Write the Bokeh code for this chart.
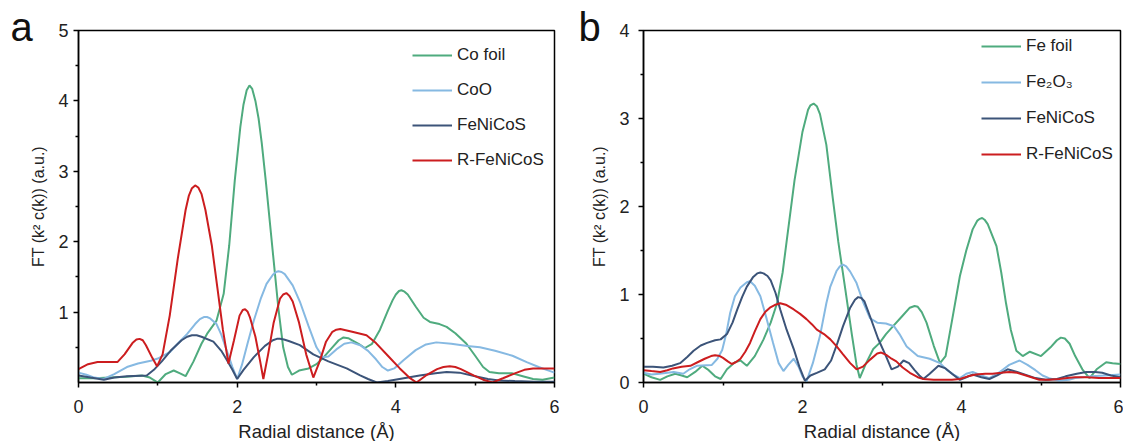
from bokeh.plotting import figure
from bokeh.layouts import row
from bokeh.models import Legend, LegendItem, FixedTicker, Title, Range1d
from bokeh.embed import file_html
from bokeh.resources import INLINE

# ---------------- Panel a data (Co K-edge) ----------------
a_cofoil_x = [0.0, 0.2, 0.4, 0.6, 0.8, 0.9, 1.0, 1.1, 1.2, 1.28, 1.35, 1.45, 1.55, 1.62, 1.74, 1.83, 1.9, 1.97, 2.04, 2.08, 2.12, 2.155, 2.19, 2.23, 2.27, 2.31, 2.36, 2.46, 2.52, 2.58, 2.64, 2.69, 2.78, 2.9, 3.0, 3.1, 3.2, 3.28, 3.34, 3.4, 3.45, 3.53, 3.61, 3.7, 3.8, 3.9, 3.96, 4.0, 4.04, 4.07, 4.11, 4.15, 4.25, 4.35, 4.43, 4.55, 4.64, 4.75, 4.89, 5.0, 5.1, 5.18, 5.3, 5.47, 5.6, 5.73, 5.85, 6.0]
a_cofoil_y = [0.06, 0.06, 0.07, 0.08, 0.1, 0.07, 0.0, 0.12, 0.17, 0.13, 0.09, 0.3, 0.55, 0.69, 0.88, 1.26, 1.95, 2.87, 3.63, 3.95, 4.15, 4.22, 4.17, 4.0, 3.75, 3.4, 2.87, 1.73, 1.05, 0.5, 0.22, 0.11, 0.17, 0.2, 0.26, 0.37, 0.5, 0.6, 0.64, 0.63, 0.6, 0.55, 0.49, 0.55, 0.75, 1.02, 1.17, 1.25, 1.3, 1.31, 1.29, 1.25, 1.08, 0.92, 0.86, 0.83, 0.79, 0.7, 0.55, 0.38, 0.22, 0.15, 0.13, 0.13, 0.09, 0.05, 0.04, 0.07]

a_coo_x = [0.0, 0.1, 0.2, 0.32, 0.45, 0.61, 0.75, 0.91, 1.0, 1.15, 1.25, 1.37, 1.47, 1.53, 1.58, 1.62, 1.66, 1.74, 1.8, 1.87, 1.94, 2.0, 2.06, 2.13, 2.21, 2.3, 2.37, 2.45, 2.49, 2.52, 2.56, 2.6, 2.7, 2.79, 2.9, 3.0, 3.08, 3.15, 3.25, 3.35, 3.44, 3.55, 3.65, 3.75, 3.83, 3.9, 3.98, 4.1, 4.25, 4.38, 4.51, 4.7, 4.9, 5.06, 5.25, 5.47, 5.65, 5.8, 5.9, 6.0]
a_coo_y = [0.14, 0.11, 0.07, 0.05, 0.12, 0.22, 0.27, 0.31, 0.34, 0.43, 0.55, 0.69, 0.83, 0.9, 0.93, 0.93, 0.91, 0.83, 0.68, 0.45, 0.22, 0.05, 0.25, 0.55, 0.88, 1.2, 1.4, 1.53, 1.57, 1.58, 1.57, 1.54, 1.38, 1.15, 0.8, 0.5, 0.36, 0.37, 0.47, 0.55, 0.57, 0.53, 0.45, 0.33, 0.22, 0.17, 0.2, 0.32, 0.46, 0.54, 0.57, 0.55, 0.52, 0.5, 0.45, 0.38, 0.29, 0.22, 0.18, 0.14]

a_fenicos_x = [0.0, 0.15, 0.32, 0.45, 0.61, 0.86, 0.95, 1.05, 1.16, 1.3, 1.37, 1.43, 1.49, 1.55, 1.7, 1.8, 1.87, 1.94, 2.0, 2.08, 2.21, 2.35, 2.45, 2.5, 2.54, 2.59, 2.65, 2.79, 2.96, 3.15, 3.38, 3.55, 3.65, 3.76, 3.9, 4.1, 4.3, 4.5, 4.64, 4.8, 5.0, 5.16, 5.3, 5.5, 5.75, 6.0]
a_fenicos_y = [0.1, 0.07, 0.04, 0.07, 0.09, 0.1, 0.18, 0.3, 0.45, 0.6, 0.65, 0.67, 0.67, 0.65, 0.58, 0.45, 0.32, 0.18, 0.05, 0.18, 0.36, 0.52, 0.6, 0.62, 0.62, 0.61, 0.59, 0.53, 0.4, 0.3, 0.2, 0.1, 0.05, 0.0, 0.02, 0.06, 0.1, 0.13, 0.15, 0.14, 0.09, 0.05, 0.03, 0.02, 0.01, 0.01]

a_rfenicos_x = [0.0, 0.12, 0.24, 0.4, 0.49, 0.58, 0.68, 0.73, 0.77, 0.81, 0.85, 0.93, 0.99, 1.06, 1.15, 1.25, 1.35, 1.39, 1.43, 1.47, 1.51, 1.55, 1.6, 1.68, 1.75, 1.82, 1.89, 1.96, 2.03, 2.07, 2.1, 2.13, 2.16, 2.23, 2.29, 2.33, 2.39, 2.46, 2.54, 2.58, 2.62, 2.66, 2.7, 2.78, 2.87, 2.96, 3.04, 3.12, 3.2, 3.25, 3.3, 3.45, 3.63, 3.75, 3.9, 4.05, 4.17, 4.26, 4.38, 4.52, 4.6, 4.68, 4.75, 4.82, 4.98, 5.1, 5.22, 5.35, 5.5, 5.62, 5.73, 5.85, 6.0]
a_rfenicos_y = [0.19, 0.26, 0.29, 0.29, 0.29, 0.4, 0.56, 0.61, 0.62, 0.6, 0.53, 0.35, 0.23, 0.4, 0.95, 1.75, 2.45, 2.65, 2.76, 2.8, 2.77, 2.68, 2.45, 1.95, 1.35, 0.75, 0.27, 0.6, 0.95, 1.03, 1.04, 1.01, 0.93, 0.65, 0.3, 0.05, 0.4, 0.85, 1.19, 1.25, 1.27, 1.23, 1.15, 0.85, 0.4, 0.07, 0.3, 0.58, 0.72, 0.75, 0.76, 0.72, 0.67, 0.56, 0.38, 0.2, 0.07, 0.0, 0.1, 0.19, 0.22, 0.23, 0.22, 0.19, 0.1, 0.04, 0.0, 0.06, 0.13, 0.18, 0.2, 0.2, 0.2]

# ---------------- Panel b data (Fe K-edge) ----------------
b_fefoil_x = [0.0, 0.1, 0.21, 0.3, 0.4, 0.48, 0.55, 0.65, 0.74, 0.82, 0.9, 0.97, 1.05, 1.15, 1.22, 1.3, 1.4, 1.51, 1.6, 1.68, 1.75, 1.8, 1.9, 2.0, 2.07, 2.1, 2.14, 2.18, 2.22, 2.3, 2.38, 2.45, 2.54, 2.62, 2.68, 2.72, 2.8, 2.89, 2.97, 3.05, 3.14, 3.25, 3.35, 3.41, 3.45, 3.5, 3.56, 3.65, 3.73, 3.8, 3.88, 3.98, 4.06, 4.14, 4.2, 4.23, 4.26, 4.29, 4.33, 4.44, 4.5, 4.56, 4.62, 4.69, 4.77, 4.86, 5.0, 5.12, 5.2, 5.25, 5.3, 5.36, 5.43, 5.52, 5.61, 5.7, 5.82, 5.9, 6.0]
b_fefoil_y = [0.1, 0.06, 0.03, 0.07, 0.1, 0.08, 0.06, 0.12, 0.19, 0.14, 0.07, 0.04, 0.15, 0.23, 0.25, 0.19, 0.3, 0.49, 0.68, 0.9, 1.25, 1.6, 2.3, 2.85, 3.1, 3.15, 3.17, 3.14, 3.05, 2.7, 2.1, 1.6, 1.05, 0.55, 0.2, 0.05, 0.22, 0.38, 0.45, 0.55, 0.64, 0.75, 0.85, 0.87, 0.86, 0.8, 0.68, 0.42, 0.22, 0.3, 0.7, 1.21, 1.5, 1.74, 1.84, 1.86, 1.87, 1.85, 1.8, 1.55, 1.25, 0.9, 0.6, 0.36, 0.3, 0.35, 0.3, 0.4, 0.48, 0.51, 0.5, 0.44, 0.3, 0.15, 0.05, 0.15, 0.23, 0.22, 0.21]

b_fe2o3_x = [0.0, 0.1, 0.2, 0.38, 0.5, 0.58, 0.67, 0.86, 0.93, 0.99, 1.04, 1.09, 1.15, 1.22, 1.3, 1.34, 1.4, 1.47, 1.55, 1.63, 1.7, 1.76, 1.82, 1.89, 1.95, 2.0, 2.05, 2.13, 2.22, 2.3, 2.35, 2.43, 2.47, 2.51, 2.55, 2.6, 2.68, 2.76, 2.85, 2.94, 3.05, 3.15, 3.22, 3.31, 3.45, 3.6, 3.73, 3.82, 3.9, 3.98, 4.06, 4.14, 4.25, 4.35, 4.45, 4.51, 4.6, 4.73, 4.83, 4.93, 5.02, 5.1, 5.23, 5.35, 5.43, 5.64, 5.8, 6.0]
b_fe2o3_y = [0.11, 0.09, 0.1, 0.12, 0.1, 0.15, 0.19, 0.2, 0.27, 0.37, 0.55, 0.79, 0.98, 1.08, 1.14, 1.15, 1.1, 0.98, 0.72, 0.45, 0.22, 0.13, 0.2, 0.27, 0.18, 0.07, 0.01, 0.22, 0.53, 0.9, 1.09, 1.27, 1.32, 1.34, 1.32, 1.26, 1.13, 0.92, 0.73, 0.68, 0.67, 0.64, 0.55, 0.41, 0.3, 0.27, 0.22, 0.14, 0.09, 0.05, 0.1, 0.12, 0.08, 0.05, 0.1, 0.14, 0.2, 0.25, 0.2, 0.14, 0.08, 0.05, 0.02, 0.03, 0.05, 0.07, 0.08, 0.09]

b_fenicos_x = [0.0, 0.12, 0.25, 0.36, 0.46, 0.55, 0.63, 0.72, 0.8, 0.9, 0.97, 1.05, 1.12, 1.18, 1.24, 1.3, 1.38, 1.43, 1.47, 1.51, 1.56, 1.6, 1.66, 1.72, 1.8, 1.89, 1.96, 2.03, 2.1, 2.18, 2.28, 2.36, 2.44, 2.51, 2.6, 2.66, 2.7, 2.74, 2.78, 2.85, 2.95, 3.05, 3.12, 3.2, 3.27, 3.34, 3.41, 3.47, 3.52, 3.6, 3.71, 3.8, 3.88, 3.98, 4.06, 4.14, 4.25, 4.35, 4.45, 4.58, 4.7, 4.8, 4.93, 5.06, 5.2, 5.31, 5.45, 5.57, 5.68, 5.77, 5.88, 6.0]
b_fenicos_y = [0.18, 0.18, 0.17, 0.19, 0.22, 0.29, 0.36, 0.42, 0.45, 0.48, 0.49, 0.55, 0.68, 0.83, 0.97, 1.09, 1.2, 1.24, 1.25, 1.24, 1.21, 1.16, 1.02, 0.83, 0.6, 0.38, 0.18, 0.02, 0.08, 0.11, 0.15, 0.25, 0.45, 0.64, 0.85, 0.94, 0.97, 0.96, 0.92, 0.75, 0.5, 0.3, 0.15, 0.18, 0.25, 0.22, 0.14, 0.08, 0.04, 0.1, 0.19, 0.16, 0.1, 0.03, 0.06, 0.09, 0.06, 0.04, 0.08, 0.15, 0.12, 0.09, 0.05, 0.03, 0.04, 0.07, 0.1, 0.12, 0.12, 0.11, 0.08, 0.06]

b_rfenicos_x = [0.0, 0.1, 0.21, 0.3, 0.37, 0.48, 0.59, 0.68, 0.77, 0.85, 0.9, 0.96, 1.0, 1.06, 1.11, 1.16, 1.22, 1.28, 1.34, 1.4, 1.47, 1.53, 1.59, 1.65, 1.72, 1.8, 1.89, 1.97, 2.05, 2.12, 2.18, 2.27, 2.35, 2.43, 2.51, 2.6, 2.68, 2.76, 2.85, 2.94, 2.99, 3.06, 3.12, 3.18, 3.26, 3.35, 3.45, 3.52, 3.65, 3.77, 3.88, 3.98, 4.08, 4.18, 4.3, 4.39, 4.5, 4.6, 4.7, 4.77, 4.88, 4.98, 5.1, 5.23, 5.33, 5.43, 5.58, 5.73, 5.85, 6.0]
b_rfenicos_y = [0.14, 0.13, 0.12, 0.14, 0.16, 0.18, 0.19, 0.23, 0.27, 0.3, 0.31, 0.3, 0.28, 0.24, 0.21, 0.23, 0.27, 0.35, 0.45, 0.58, 0.72, 0.8, 0.85, 0.88, 0.9, 0.88, 0.83, 0.78, 0.72, 0.66, 0.6, 0.55, 0.49, 0.41, 0.32, 0.22, 0.15, 0.18, 0.26, 0.33, 0.34, 0.31, 0.27, 0.24, 0.17, 0.11, 0.06, 0.04, 0.03, 0.03, 0.03, 0.04, 0.07, 0.09, 0.1, 0.1, 0.11, 0.12, 0.11, 0.09, 0.06, 0.03, 0.03, 0.04, 0.05, 0.06, 0.06, 0.05, 0.05, 0.05]

a_labels = ["Co foil", "CoO", "FeNiCoS", "R-FeNiCoS"]
b_labels = ["Fe foil", "Fe\u2082O\u2083", "FeNiCoS", "R-FeNiCoS"]
x_ticks = [0, 2, 4, 6]
x_minor = [1, 3, 5]
a_y_ticks = [1, 2, 3, 4, 5]
a_y_minor = [0.5, 1.5, 2.5, 3.5, 4.5]
b_y_ticks = [0, 1, 2, 3, 4]
b_y_minor = [0.5, 1.5, 2.5, 3.5]

colors = ["#4fab7e", "#86b9e2", "#3c5479", "#cc1d1f"]
FONT = "Liberation Sans"
YLABEL = "FT (k\u00b2 c(k)) (a.u.)"
XLABEL = "Radial distance (\u00c5)"


def make_panel(series, labels, ymax, yticks, yminor, letter, fw, left_border, right_border,
               legend_loc, legend_spacing, ylab_standoff, letter_offset):
    p = figure(frame_width=fw, frame_height=352,
               min_border_left=left_border, min_border_right=right_border,
               min_border_top=30, min_border_bottom=59,
               x_range=Range1d(0, 6), y_range=Range1d(0, ymax),
               output_backend="svg", toolbar_location=None)
    p.grid.visible = False
    p.outline_line_color = "black"
    p.outline_line_width = 1.5
    p.background_fill_color = "white"
    p.border_fill_color = "white"

    p.xaxis.ticker = FixedTicker(ticks=x_ticks, minor_ticks=x_minor)
    p.yaxis.ticker = FixedTicker(ticks=yticks, minor_ticks=yminor)
    for ax in (p.xaxis[0], p.yaxis[0]):
        ax.axis_line_width = 1.5
        ax.axis_line_color = "black"
        ax.major_tick_line_width = 1.5
        ax.minor_tick_line_width = 1.5
        ax.major_tick_out = 5
        ax.major_tick_in = 0
        ax.minor_tick_out = 3
        ax.minor_tick_in = 0
        ax.major_label_text_font = FONT
        ax.major_label_text_font_size = "18px"
        ax.major_label_text_color = "#222222"
        ax.axis_label_text_font = FONT
        ax.axis_label_text_font_style = "normal"
        ax.axis_label_text_color = "#222222"
    p.xaxis.axis_label_text_font_size = "18.5px"
    p.yaxis.axis_label_text_font_size = "16px"
    p.xaxis.axis_label = XLABEL
    p.yaxis.axis_label = YLABEL
    p.xaxis.major_label_standoff = 12
    p.xaxis.axis_label_standoff = 5
    p.yaxis.major_label_standoff = ylab_standoff
    p.yaxis.axis_label_standoff = 8

    items = []
    for (xs, ys), lab, col in zip(series, labels, colors):
        r = p.line(xs, ys, line_color=col, line_width=2)
        items.append(LegendItem(label=lab, renderers=[r]))
    leg = Legend(items=items, location=legend_loc, orientation="vertical",
                 glyph_width=40, glyph_height=20, label_height=20,
                 label_standoff=5, spacing=legend_spacing, padding=10, margin=0,
                 border_line_color=None, background_fill_alpha=0,
                 label_text_font=FONT, label_text_font_size="17px",
                 label_text_color="#222222")
    p.add_layout(leg, "center")

    # panel letter, drawn as a title in the top border
    p.add_layout(Title(text=letter, align="left", offset=letter_offset, standoff=-37,
                       vertical_align="bottom", text_font=FONT, text_font_size="40px",
                       text_font_style="normal", text_color="#111111"), "above")
    return p


pa = make_panel([(a_cofoil_x, a_cofoil_y), (a_coo_x, a_coo_y),
                 (a_fenicos_x, a_fenicos_y), (a_rfenicos_x, a_rfenicos_y)],
                a_labels, 5, a_y_ticks, a_y_minor, "a", 476, 78, 6, (334, 212), 15, 5, -68)
pb = make_panel([(b_fefoil_x, b_fefoil_y), (b_fe2o3_x, b_fe2o3_y),
                 (b_fenicos_x, b_fenicos_y), (b_rfenicos_x, b_rfenicos_y)],
                b_labels, 4, b_y_ticks, b_y_minor, "b", 477, 83, 3, (338, 218), 16, 9, -65)

layout = row(pa, pb)
open("out.html", "w").write(file_html(layout, INLINE))
